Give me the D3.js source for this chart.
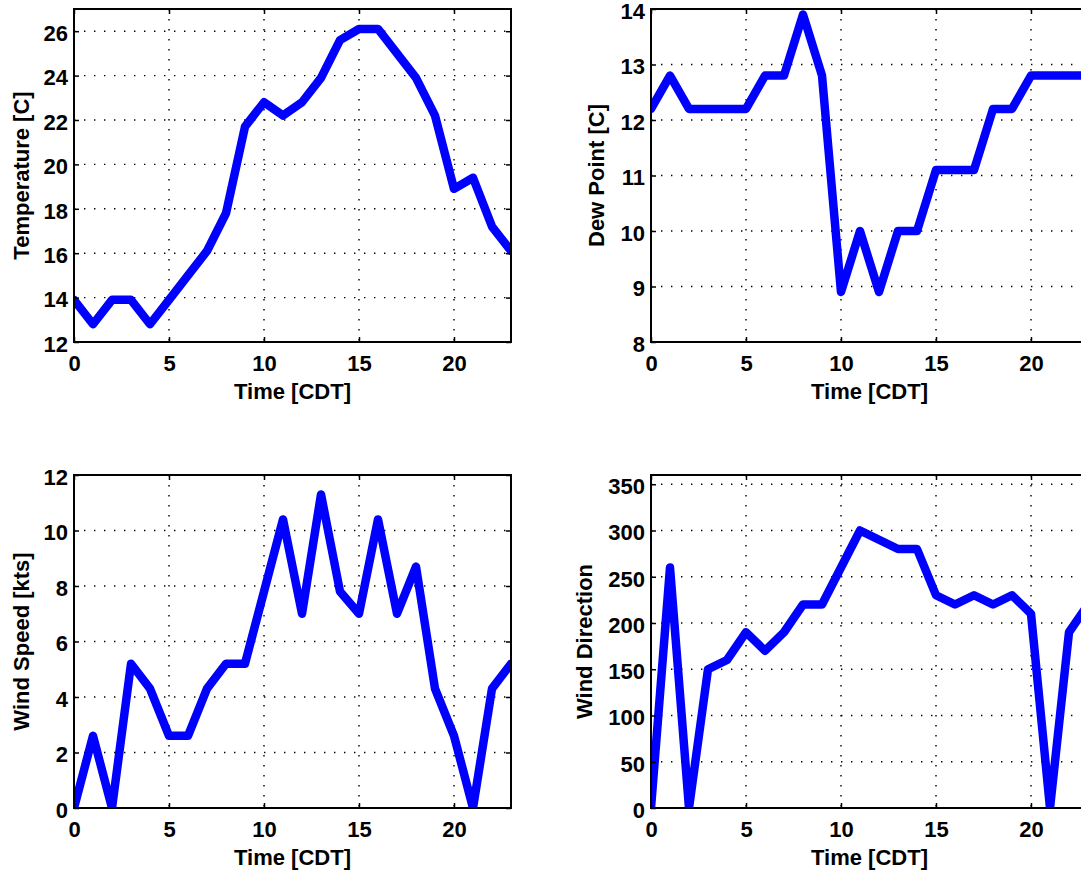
<!DOCTYPE html>
<html>
<head>
<meta charset="utf-8">
<script src="https://cdn.jsdelivr.net/npm/d3@7"></script>
<style>
  html, body { margin: 0; padding: 0; background: #fff; overflow: hidden; }
  svg { display: block; }
  text { font-family: "Liberation Sans", Arial, Helvetica, sans-serif; font-weight: bold; fill: #000; }
</style>
</head>
<body>
<svg id="chart" width="1081" height="871"></svg>
<script>
// Hourly surface observations
const hours = [0, 1, 2, 3, 4, 5, 6, 7, 8, 9, 10, 11, 12, 13, 14, 15, 16, 17, 18, 19, 20, 21, 22, 23];

const temperature = [13.9, 12.8, 13.9, 13.9, 12.8, 13.9, 15.0, 16.1, 17.8, 21.7, 22.8, 22.2,
                     22.8, 23.9, 25.6, 26.1, 26.1, 25.0, 23.9, 22.2, 18.9, 19.4, 17.2, 16.1];
const dewPoint    = [12.2, 12.8, 12.2, 12.2, 12.2, 12.2, 12.8, 12.8, 13.9, 12.8, 8.9, 10.0,
                     8.9, 10.0, 10.0, 11.1, 11.1, 11.1, 12.2, 12.2, 12.8, 12.8, 12.8, 12.8];
const windSpeed   = [0, 2.6, 0, 5.2, 4.3, 2.6, 2.6, 4.3, 5.2, 5.2, 7.8, 10.4,
                     7.0, 11.3, 7.8, 7.0, 10.4, 7.0, 8.7, 4.3, 2.6, 0, 4.3, 5.2];
const windDir     = [0, 260, 0, 150, 160, 190, 170, 190, 220, 220, 260, 300,
                     290, 280, 280, 230, 220, 230, 220, 230, 210, 0, 190, 220];

const timeTicks  = [0, 5, 10, 15, 20];
const tempTicks  = [12, 14, 16, 18, 20, 22, 24, 26];
const dewTicks   = [8, 9, 10, 11, 12, 13, 14];
const speedTicks = [0, 2, 4, 6, 8, 10, 12];
const dirTicks   = [0, 50, 100, 150, 200, 250, 300, 350];

const svg = d3.select("#chart");
svg.append("rect").attr("width", 1081).attr("height", 871).attr("fill", "#fff");

const W = 437, H = 333;
const FONT = 22;
const plain = d => String(d);

const panels = [
  { id: "t",  label: "Temperature [C]",  values: temperature, domain: [12, 27], ticks: tempTicks,  x: 74,  y: 9,   labelX: 21 },
  { id: "d",  label: "Dew Point [C]",    values: dewPoint,    domain: [8, 14],  ticks: dewTicks,   x: 651, y: 9,   labelX: 596 },
  { id: "s",  label: "Wind Speed [kts]", values: windSpeed,   domain: [0, 12],  ticks: speedTicks, x: 74,  y: 475, labelX: 21 },
  { id: "w",  label: "Wind Direction",   values: windDir,     domain: [0, 360], ticks: dirTicks,   x: 651, y: 475, labelX: 584 }
];

panels.forEach(p => {
  const g = svg.append("g").attr("transform", `translate(${p.x},${p.y})`);
  const x = d3.scaleLinear().domain([0, 23]).range([0, W]);
  const y = d3.scaleLinear().domain(p.domain).range([H, 0]);

  // dotted grid
  const grid = g.append("g").attr("class", "grid");
  grid.selectAll("line.gx").data(timeTicks).join("line")
    .attr("class", "gx")
    .attr("x1", d => x(d)).attr("x2", d => x(d)).attr("y1", 0).attr("y2", H);
  grid.selectAll("line.gy").data(p.ticks).join("line")
    .attr("class", "gy")
    .attr("y1", d => y(d)).attr("y2", d => y(d)).attr("x1", 0).attr("x2", W);
  grid.selectAll("line")
    .attr("stroke", "#000").attr("stroke-width", 1.4)
    .attr("stroke-dasharray", "1.4,8.6");

  // data line, clipped to the axes box
  const clipId = "clip-" + p.id;
  g.append("clipPath").attr("id", clipId)
    .append("rect").attr("width", W).attr("height", H);
  const line = d3.line().x((d, i) => x(hours[i])).y(d => y(d));
  g.append("path")
    .datum(p.values)
    .attr("clip-path", `url(#${clipId})`)
    .attr("d", line)
    .attr("fill", "none")
    .attr("stroke", "#0000ff")
    .attr("stroke-width", 8.5)
    .attr("stroke-linejoin", "round")
    .attr("stroke-linecap", "round");

  // axes with inward ticks
  g.append("g").attr("transform", `translate(0,${H})`)
    .call(d3.axisBottom(x).tickValues(timeTicks).tickFormat(plain).tickSize(-5).tickPadding(13));
  const yAxis = g.append("g")
    .call(d3.axisLeft(y).tickValues(p.ticks).tickFormat(plain).tickSize(-5).tickPadding(6));
  yAxis.selectAll(".tick text").attr("dy", "0.42em");
  g.append("g")
    .call(d3.axisTop(x).tickValues(timeTicks).tickSize(-5).tickFormat(""));
  g.append("g").attr("transform", `translate(${W},0)`)
    .call(d3.axisRight(y).tickValues(p.ticks).tickSize(-5).tickFormat(""));

  g.selectAll(".domain").remove();
  g.selectAll(".tick line").attr("stroke", "#000").attr("stroke-width", 1.5);
  g.selectAll(".tick text")
    .style("font-family", '"Liberation Sans", Arial, sans-serif')
    .style("font-weight", "bold")
    .style("font-size", FONT + "px")
    .attr("fill", "#000");

  // box
  g.append("rect").attr("width", W).attr("height", H)
    .attr("fill", "none").attr("stroke", "#000").attr("stroke-width", 2);

  // axis titles
  g.append("text")
    .attr("x", W / 2).attr("y", H + 49)
    .attr("text-anchor", "middle").attr("dominant-baseline", "central")
    .style("font-size", FONT + "px")
    .text("Time [CDT]");
  svg.append("text")
    .attr("transform", `translate(${p.labelX},${p.y + H / 2}) rotate(-90)`)
    .attr("text-anchor", "middle").attr("dominant-baseline", "central")
    .style("font-size", FONT + "px")
    .text(p.label);
});
</script>
</body>
</html>
